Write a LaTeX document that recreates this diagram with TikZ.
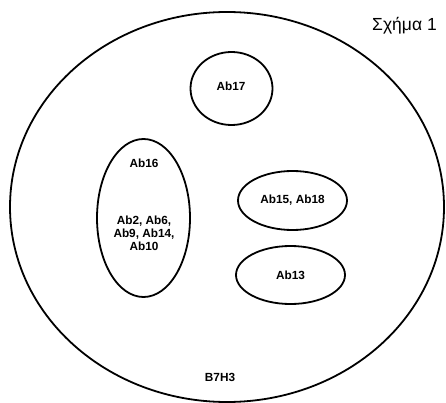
\documentclass[tikz,border=0pt]{standalone}
\usepackage{fontspec}
\setmainfont{Liberation Sans}
\usetikzlibrary{shapes.geometric}
\begin{document}
\begin{tikzpicture}[x=1pt,y=-1pt,
  blob/.style={draw,ellipse,line width=1.8pt,inner sep=0pt},
  lbl/.style={font=\fontsize{11.8}{13}\selectfont\bfseries,align=center,inner sep=0pt}]
\useasboundingbox (0,0) rectangle (446,403);
\node[blob,minimum width=434pt,minimum height=390pt] (b7h3) at (227,207) {};
\node[blob,minimum width=82pt,minimum height=73pt] (e17) at (231.5,88.5) {};
\node[blob,minimum width=93pt,minimum height=158pt] (e16) at (143.5,218) {};
\node[blob,minimum width=109pt,minimum height=59pt] (e15) at (292.5,200.5) {};
\node[blob,minimum width=109pt,minimum height=58pt] (e13) at (290.5,275) {};
\node[lbl] (t17) at (231,86) {Ab17};
\node[lbl] (t16) at (144,163) {Ab16};
\node[lbl] (t2) at (144,233) {Ab2, Ab6,\\Ab9, Ab14,\\Ab10};
\node[lbl] (t15) at (e15.center) {Ab15, Ab18};
\node[lbl] (t13) at (e13.center) {Ab13};
\node[lbl] (tb) at (220,377) {B7H3};
\node[font=\fontsize{17.5}{20}\selectfont,inner sep=0pt] (title) at (404.5,26) {Σχήμα 1};
\end{tikzpicture}
\end{document}
